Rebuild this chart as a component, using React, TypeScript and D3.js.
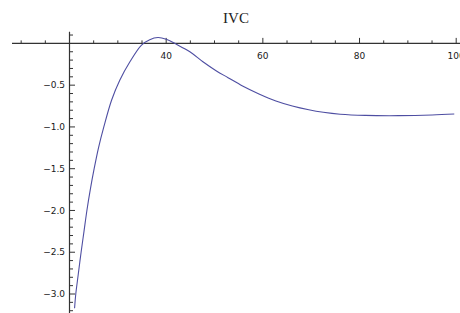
import React, { useEffect, useRef } from 'react';
import * as d3 from 'd3';

// curve
const xs = [21.05, 21.3, 21.8, 22.4, 23.0, 23.6, 24.3, 25.1, 26.0, 27.1, 28.7, 30.4, 32.5, 34.9, 36.6, 38.3, 40.0, 42.1, 44.9, 47.6, 50.4, 52.8, 55.8, 59.2, 62.7, 66.1, 69.5, 72.5, 76.0, 81.2, 88.1, 95.0, 99.6];
const ys = [-3.17, -3.0, -2.77, -2.5, -2.25, -2.0, -1.75, -1.5, -1.25, -1.0, -0.68, -0.44, -0.22, -0.02, 0.045, 0.07, 0.05, -0.01, -0.10, -0.22, -0.33, -0.41, -0.51, -0.605, -0.69, -0.75, -0.795, -0.825, -0.848, -0.862, -0.865, -0.857, -0.845];

const xMajor = [40, 60, 80, 100];
const xMinor = [10, 15, 25, 30, 35, 45, 50, 55, 65, 70, 75, 85, 90, 95];
const yMajor = [-0.5, -1.0, -1.5, -2.0, -2.5, -3.0];
const title = 'IVC';

const width = 460;
const height = 313;

const App = () => {
  const ref = useRef<SVGSVGElement>(null);

  useEffect(() => {
    const svg = d3.select(ref.current);
    svg.selectAll('*').remove();

    const x = d3.scaleLinear().domain([20, 100]).range([69.5, 456.2]);
    const y = d3.scaleLinear().domain([0, -3]).range([43.4, 294]);
    const axisColor = '#333';
    const font = '"DejaVu Sans", sans-serif';

    // title
    svg.append('text')
      .attr('x', 236)
      .attr('y', 23)
      .attr('text-anchor', 'middle')
      .style('font-family', '"Liberation Serif", "Times New Roman", serif')
      .style('font-size', '15px')
      .style('fill', '#222')
      .text(title);

    // x axis line and ticks (pointing up)
    svg.append('line')
      .attr('x1', 12).attr('x2', width)
      .attr('y1', y(0)).attr('y2', y(0))
      .attr('stroke', axisColor).attr('stroke-width', 1.2);

    svg.selectAll('.xminor')
      .data(xMinor)
      .enter()
      .append('line')
      .attr('class', 'xminor')
      .attr('x1', d => x(d)).attr('x2', d => x(d))
      .attr('y1', y(0)).attr('y2', y(0) - 3)
      .attr('stroke', axisColor);

    svg.selectAll('.xmajor')
      .data(xMajor)
      .enter()
      .append('line')
      .attr('class', 'xmajor')
      .attr('x1', d => x(d)).attr('x2', d => x(d))
      .attr('y1', y(0)).attr('y2', y(0) - 5.5)
      .attr('stroke', axisColor);

    svg.selectAll('.xlabel')
      .data(xMajor)
      .enter()
      .append('text')
      .attr('class', 'xlabel')
      .attr('x', d => x(d))
      .attr('y', 58.5)
      .attr('text-anchor', 'middle')
      .style('font-family', font)
      .style('font-size', '9px')
      .style('fill', '#1a1a1a')
      .text(d => String(d));

    // y axis line and ticks (pointing right)
    svg.append('line')
      .attr('x1', x(20)).attr('x2', x(20))
      .attr('y1', 31.7).attr('y2', height)
      .attr('stroke', axisColor).attr('stroke-width', 1.2);

    const yMinor = d3.range(1, -33, -1).map(i => i / 10).filter(v => v !== 0 && Math.abs(v * 2 - Math.round(v * 2)) > 1e-6);
    svg.selectAll('.yminor')
      .data(yMinor)
      .enter()
      .append('line')
      .attr('class', 'yminor')
      .attr('x1', x(20)).attr('x2', x(20) + 3.5)
      .attr('y1', d => y(d)).attr('y2', d => y(d))
      .attr('stroke', axisColor);

    svg.selectAll('.ymajor')
      .data(yMajor)
      .enter()
      .append('line')
      .attr('class', 'ymajor')
      .attr('x1', x(20)).attr('x2', x(20) + 5.5)
      .attr('y1', d => y(d)).attr('y2', d => y(d))
      .attr('stroke', axisColor);

    svg.selectAll('.ylabel')
      .data(yMajor)
      .enter()
      .append('text')
      .attr('class', 'ylabel')
      .attr('x', 65)
      .attr('y', d => y(d))
      .attr('dy', '0.35em')
      .attr('text-anchor', 'end')
      .style('font-family', font)
      .style('font-size', '9px')
      .style('fill', '#1a1a1a')
      .text(d => '\u2212' + Math.abs(d).toFixed(1));

    // the curve
    const pts = xs.map((v, i) => [v, ys[i]] as [number, number]);
    const line = d3.line<[number, number]>()
      .x(d => x(d[0]))
      .y(d => y(d[1]))
      .curve(d3.curveCatmullRom.alpha(0.5));

    svg.append('path')
      .datum(pts)
      .attr('d', line)
      .attr('fill', 'none')
      .attr('stroke', '#4e4ea2')
      .attr('stroke-width', 1.1);
  }, []);

  return (
    <svg
      ref={ref}
      width={width}
      height={height}
      style={{ position: 'absolute', left: 0, top: 0, background: '#fff' }}
    />
  );
};

export default App;
